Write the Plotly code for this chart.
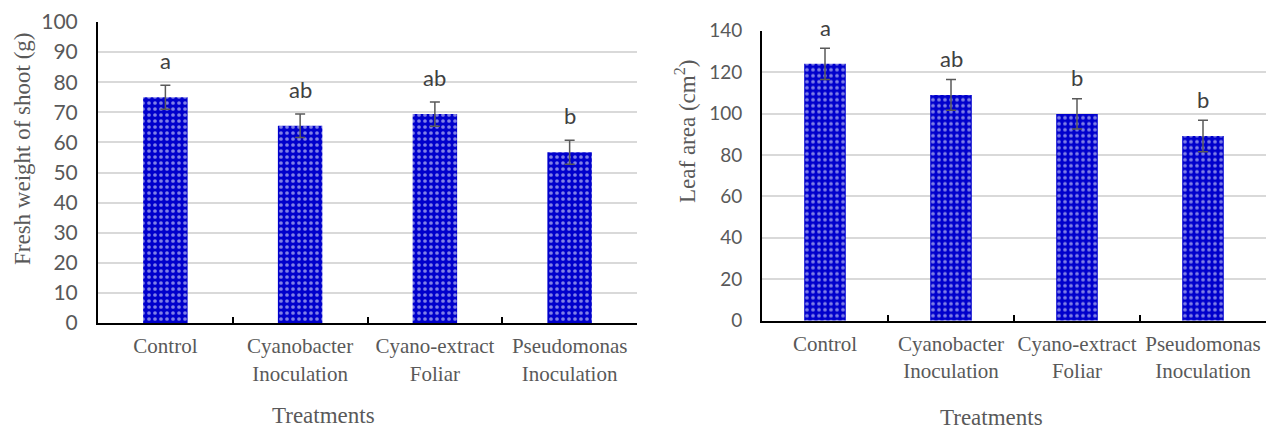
import plotly.graph_objects as go

categories = ["Control", "Cyanobacter<br>Inoculation", "Cyano-extract<br>Foliar", "Pseudomonas<br>Inoculation"]
fresh_weight = [75.0, 65.5, 69.4, 56.7]
fresh_weight_err = [4.0, 3.9, 4.0, 4.0]
fresh_letters = ["a", "ab", "ab", "b"]
leaf_area = [124.0, 109.0, 99.8, 89.2]
leaf_area_err = [7.5, 7.4, 7.3, 7.6]
leaf_letters = ["a", "ab", "b", "b"]
fw_ticks = list(range(0, 101, 10))
la_ticks = list(range(0, 141, 20))

W, H = 1266, 430
BLUE = "#0000CC"
GRAY = "#595959"
SERIF = "Liberation Serif"
SANS = "Lato"

fig = go.Figure()

pattern = dict(shape=".", fgcolor="white", bgcolor=BLUE, size=6, solidity=0.3, fillmode="overlay")

fig.add_trace(go.Bar(
    x=categories, y=fresh_weight, width=0.33,
    marker=dict(color=BLUE, line=dict(width=0), pattern=pattern),
    error_y=dict(type="data", array=fresh_weight_err, color=GRAY, thickness=1.5, width=5),
    xaxis="x", yaxis="y", showlegend=False, hoverinfo="skip",
))
fig.add_trace(go.Bar(
    x=categories, y=leaf_area, width=0.33,
    marker=dict(color=BLUE, line=dict(width=0), pattern=pattern),
    error_y=dict(type="data", array=leaf_area_err, color=GRAY, thickness=1.5, width=5),
    xaxis="x2", yaxis="y2", showlegend=False, hoverinfo="skip",
))

annotations = []
for c, v, e, t in zip(categories, fresh_weight, fresh_weight_err, fresh_letters):
    annotations.append(dict(x=c, y=v + e, xref="x", yref="y", text=t, showarrow=False,
                            yanchor="middle", yshift=25, font=dict(family=SANS, size=22, color="#404040")))
for c, v, e, t in zip(categories, leaf_area, leaf_area_err, leaf_letters):
    annotations.append(dict(x=c, y=v + e, xref="x2", yref="y2", text=t, showarrow=False,
                            yanchor="middle", yshift=21, font=dict(family=SANS, size=22, color="#404040")))

title_font = dict(family=SERIF, size=23, color=GRAY)
annotations += [
    dict(x=323 / W, y=0, xref="paper", yref="paper", text="Treatments", showarrow=False,
         xanchor="center", yanchor="bottom", font=title_font),
    dict(x=991 / W, y=1 - 417 / H, xref="paper", yref="paper", text="Treatments", showarrow=False,
         xanchor="center", yanchor="middle", font=title_font),
    dict(x=22 / W, y=1 - 149 / H, xref="paper", yref="paper", text="Fresh weight of shoot (g)", showarrow=False,
         textangle=-90, xanchor="center", yanchor="middle", font=title_font),
    dict(x=685 / W, y=1 - 132 / H, xref="paper", yref="paper", text="Leaf area (cm<sup>2</sup>)", showarrow=False,
         textangle=-90, xanchor="center", yanchor="middle", font=title_font),
]

xaxis_common = dict(
    type="category", showline=True, linecolor="black", linewidth=2, automargin=False, tickangle=0,
    ticks="inside", tickson="boundaries", ticklen=6, tickwidth=2, tickcolor="black", ticklabelstandoff=3,
    showgrid=False, tickfont=dict(family=SERIF, size=21, color=GRAY), zeroline=False,
)
yaxis_common = dict(
    showline=True, linecolor="black", linewidth=2, showgrid=True, gridcolor="#D9D9D9", gridwidth=1.5,
    ticks="", zeroline=False, automargin=False, ticklabelstandoff=14,
    tickfont=dict(family=SANS, size=21, color=GRAY),
)

fig.update_layout(
    width=W, height=H, margin=dict(l=0, r=0, t=0, b=0, autoexpand=False),
    paper_bgcolor="white", plot_bgcolor="white", hovermode=False,
    xaxis=dict(domain=[98 / W, 637 / W], anchor="y", **xaxis_common),
    yaxis=dict(domain=[1 - 323 / H, 1 - 22 / H], anchor="x", range=[0, 100], tickvals=fw_ticks, **yaxis_common),
    xaxis2=dict(domain=[762 / W, 1.0], anchor="y2", **xaxis_common),
    yaxis2=dict(domain=[1 - 320.7 / H, 1 - 30.7 / H], anchor="x2", range=[0, 140], tickvals=la_ticks,
                **{**yaxis_common, "tickfont": dict(family=SANS, size=19, color=GRAY)}),
    annotations=annotations,
)

fig.write_html("out.html", config={"displayModeBar": False},
               post_script="document.body.style.margin='0';document.body.style.overflow='hidden';")
